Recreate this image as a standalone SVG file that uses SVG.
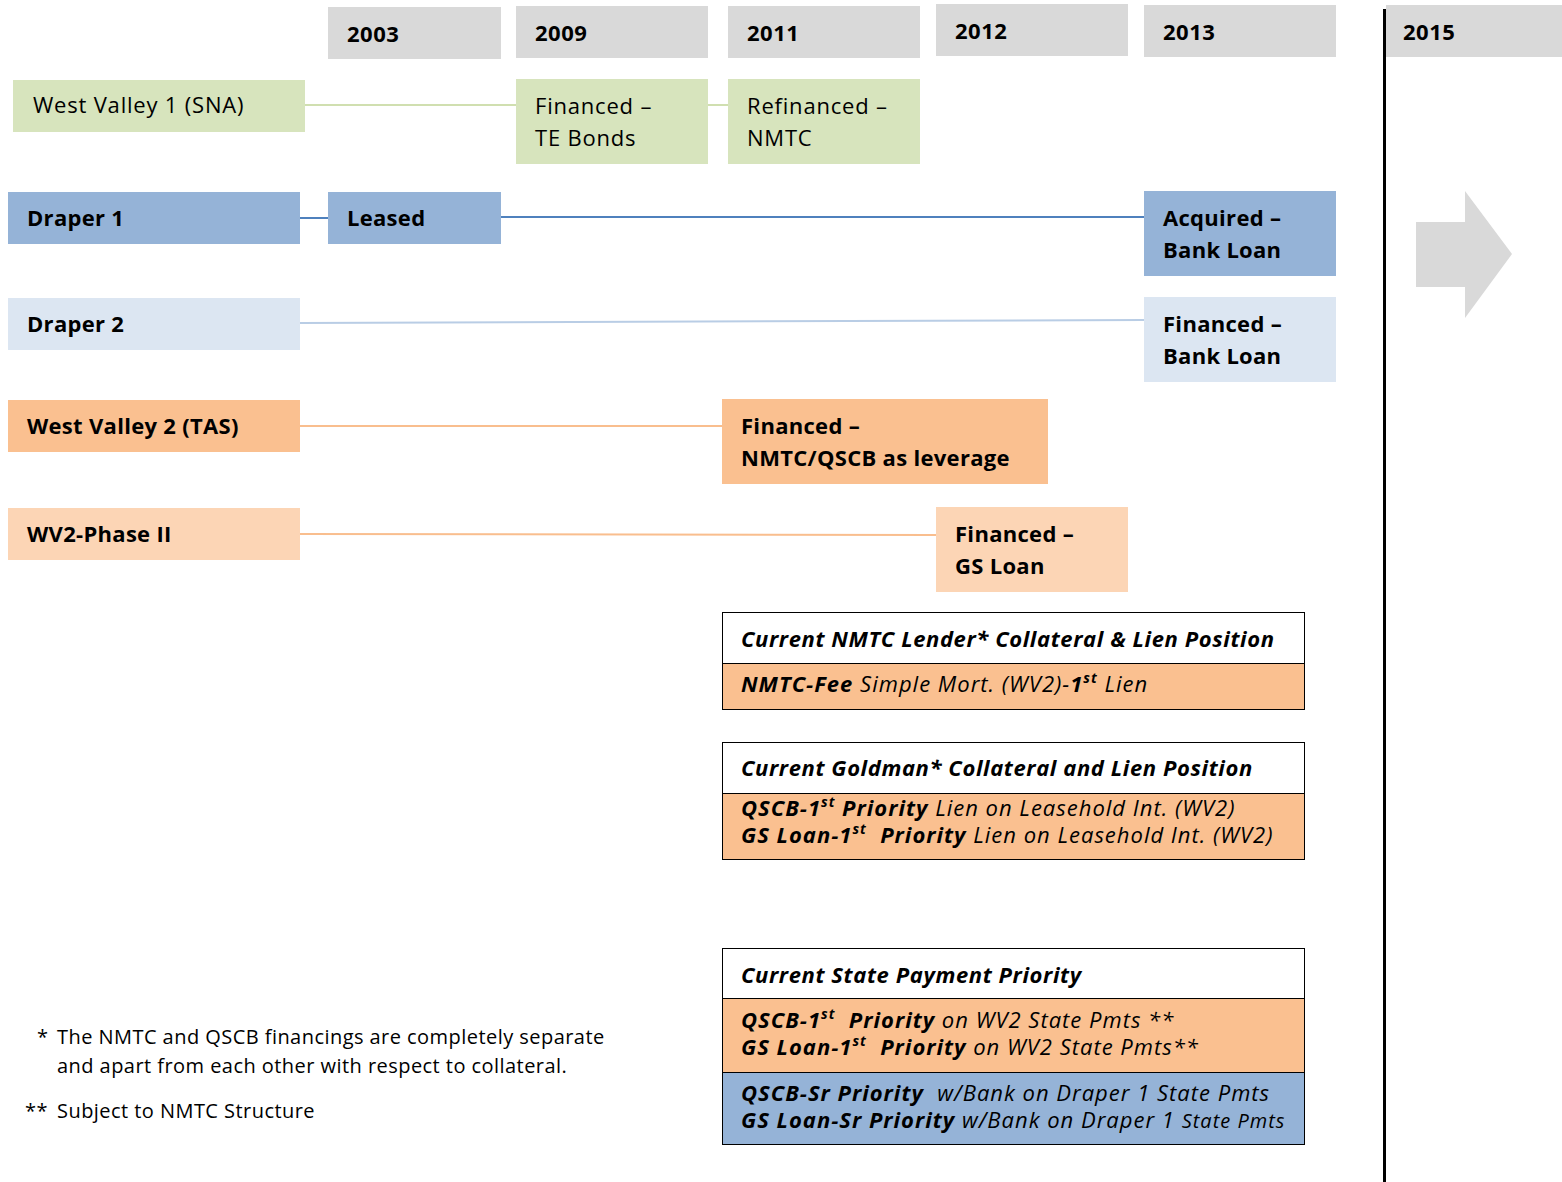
<svg xmlns="http://www.w3.org/2000/svg" width="1562" height="1182" viewBox="0 0 1562 1182">
<style>
text{font-family:"Open Sans","Noto Sans","Liberation Sans",sans-serif;fill:#000}
.yr{fill:#D9D9D9}
.yt{font-size:22px;font-weight:bold;letter-spacing:0.5px}
.n{font-size:22px;letter-spacing:0.8px}
.b{font-size:22px;font-weight:bold;letter-spacing:0.3px}
.hd{font-size:22px;font-weight:bold;font-style:italic;letter-spacing:0.6px}
.it{font-size:22px;font-style:italic;letter-spacing:1px}
.bi{font-weight:bold}
.fn{font-size:20px;letter-spacing:0.45px}
.tb{stroke:#000;stroke-width:1}
</style>
<g id="years">
<g id="y2003"><rect class="yr" x="328" y="7" width="173" height="52"/><text class="yt" x="347" y="42">2003</text></g>
<g id="y2009"><rect class="yr" x="516" y="6" width="192" height="52"/><text class="yt" x="535" y="41">2009</text></g>
<g id="y2011"><rect class="yr" x="728" y="6" width="192" height="52"/><text class="yt" x="747" y="41">2011</text></g>
<g id="y2012"><rect class="yr" x="936" y="4" width="192" height="52"/><text class="yt" x="955" y="39">2012</text></g>
<g id="y2013"><rect class="yr" x="1144" y="5" width="192" height="52"/><text class="yt" x="1163" y="40">2013</text></g>
<g id="y2015"><rect class="yr" x="1386" y="5" width="176" height="52"/><text class="yt" x="1403" y="40">2015</text></g>
</g>
<g id="divider"><line x1="1384.5" y1="9" x2="1384.5" y2="1182" stroke="#000" stroke-width="3"/></g>
<g id="arrow"><polygon points="1416,222 1465,222 1465,191 1512,254 1465,318 1465,287 1416,287" fill="#D9D9D9"/></g>
<g id="connectors" fill="none" stroke-width="2">
<line x1="305" y1="105" x2="516" y2="105" stroke="#D0DFB0"/>
<line x1="708" y1="105" x2="728" y2="105" stroke="#D0DFB0"/>
<line x1="300" y1="218" x2="328" y2="218" stroke="#4F81BD"/>
<line x1="501" y1="217" x2="1144" y2="217" stroke="#4F81BD"/>
<line x1="300" y1="323" x2="1144" y2="320" stroke="#B9CDE5"/>
<line x1="300" y1="426" x2="722" y2="426" stroke="#F9BE8E"/>
<line x1="300" y1="534" x2="936" y2="535" stroke="#F9BE8E"/>
</g>
<g id="wv1"><rect x="13" y="80" width="292" height="52" fill="#D7E4BD"/><text class="n" x="33" y="113">West Valley 1 (SNA)</text></g>
<g id="wv1-2009"><rect x="516" y="79" width="192" height="85" fill="#D7E4BD"/><text class="n" x="535" y="114">Financed –</text><text class="n" x="535" y="146">TE Bonds</text></g>
<g id="wv1-2011"><rect x="728" y="79" width="192" height="85" fill="#D7E4BD"/><text class="n" x="747" y="114">Refinanced –</text><text class="n" x="747" y="146">NMTC</text></g>
<g id="draper1"><rect x="8" y="192" width="292" height="52" fill="#95B3D7"/><text class="b" x="27" y="226">Draper 1</text></g>
<g id="draper1-2003"><rect x="328" y="192" width="173" height="52" fill="#95B3D7"/><text class="b" x="347" y="226">Leased</text></g>
<g id="draper1-2013"><rect x="1144" y="191" width="192" height="85" fill="#95B3D7"/><text class="b" x="1163" y="226">Acquired –</text><text class="b" x="1163" y="258">Bank Loan</text></g>
<g id="draper2"><rect x="8" y="298" width="292" height="52" fill="#DCE6F2"/><text class="b" x="27" y="332">Draper 2</text></g>
<g id="draper2-2013"><rect x="1144" y="297" width="192" height="85" fill="#DCE6F2"/><text class="b" x="1163" y="332">Financed –</text><text class="b" x="1163" y="364">Bank Loan</text></g>
<g id="wv2"><rect x="8" y="400" width="292" height="52" fill="#FAC090"/><text class="b" x="27" y="434">West Valley 2 (TAS)</text></g>
<g id="wv2-2011"><rect x="722" y="399" width="326" height="85" fill="#FAC090"/><text class="b" x="741" y="434">Financed –</text><text class="b" x="741" y="466">NMTC/QSCB as leverage</text></g>
<g id="wv2p2"><rect x="8" y="508" width="292" height="52" fill="#FCD5B5"/><text class="b" x="27" y="542">WV2-Phase II</text></g>
<g id="wv2p2-2012"><rect x="936" y="507" width="192" height="85" fill="#FCD5B5"/><text class="b" x="955" y="542">Financed –</text><text class="b" x="955" y="574">GS Loan</text></g>
<g id="nmtc-lender">
<rect class="tb" x="722.5" y="612.5" width="582" height="51" fill="#FFFFFF"/>
<rect class="tb" x="722.5" y="663.5" width="582" height="46" fill="#FAC090"/>
<text class="hd" x="741" y="647">Current NMTC Lender* Collateral &amp; Lien Position</text>
<text class="it" x="741" y="692"><tspan class="bi">NMTC-Fee</tspan> Simple Mort. (WV2)-<tspan class="bi">1</tspan><tspan class="bi" font-size="14" dy="-9">st</tspan><tspan dy="9"> Lien</tspan></text>
</g>
<g id="goldman">
<rect class="tb" x="722.5" y="742.5" width="582" height="51" fill="#FFFFFF"/>
<rect class="tb" x="722.5" y="793.5" width="582" height="66" fill="#FAC090"/>
<text class="hd" x="741" y="776">Current Goldman* Collateral and Lien Position</text>
<text class="it" x="741" y="816"><tspan class="bi">QSCB-1</tspan><tspan class="bi" font-size="14" dy="-9">st</tspan><tspan class="bi" dy="9"> Priority</tspan> Lien on Leasehold Int. (WV2)</text>
<text class="it" x="741" y="843" xml:space="preserve"><tspan class="bi">GS Loan-1</tspan><tspan class="bi" font-size="14" dy="-9">st</tspan><tspan class="bi" dy="9">  Priority</tspan> Lien on Leasehold Int. (WV2)</text>
</g>
<g id="state-payment">
<rect class="tb" x="722.5" y="948.5" width="582" height="50" fill="#FFFFFF"/>
<rect class="tb" x="722.5" y="998.5" width="582" height="74" fill="#FAC090"/>
<rect class="tb" x="722.5" y="1072.5" width="582" height="72" fill="#95B3D7"/>
<text class="hd" x="741" y="983">Current State Payment Priority</text>
<text class="it" x="741" y="1028" xml:space="preserve"><tspan class="bi">QSCB-1</tspan><tspan class="bi" font-size="14" dy="-9">st</tspan><tspan class="bi" dy="9">  Priority</tspan> on WV2 State Pmts **</text>
<text class="it" x="741" y="1055" xml:space="preserve"><tspan class="bi">GS Loan-1</tspan><tspan class="bi" font-size="14" dy="-9">st</tspan><tspan class="bi" dy="9">  Priority</tspan> on WV2 State Pmts**</text>
<text class="it" x="741" y="1101" xml:space="preserve"><tspan class="bi">QSCB-Sr Priority</tspan>  w/Bank on Draper 1 State Pmts</text>
<text class="it" x="741" y="1128"><tspan class="bi">GS Loan-Sr Priority</tspan> w/Bank on Draper 1 <tspan font-size="20">State Pmts</tspan></text>
</g>
<g id="footnotes">
<text class="fn" x="37" y="1044">*</text>
<text class="fn" x="57" y="1044">The NMTC and QSCB financings are completely separate</text>
<text class="fn" x="57" y="1073">and apart from each other with respect to collateral.</text>
<text class="fn" x="25" y="1118">**</text>
<text class="fn" x="57" y="1118">Subject to NMTC Structure</text>
</g>
</svg>
